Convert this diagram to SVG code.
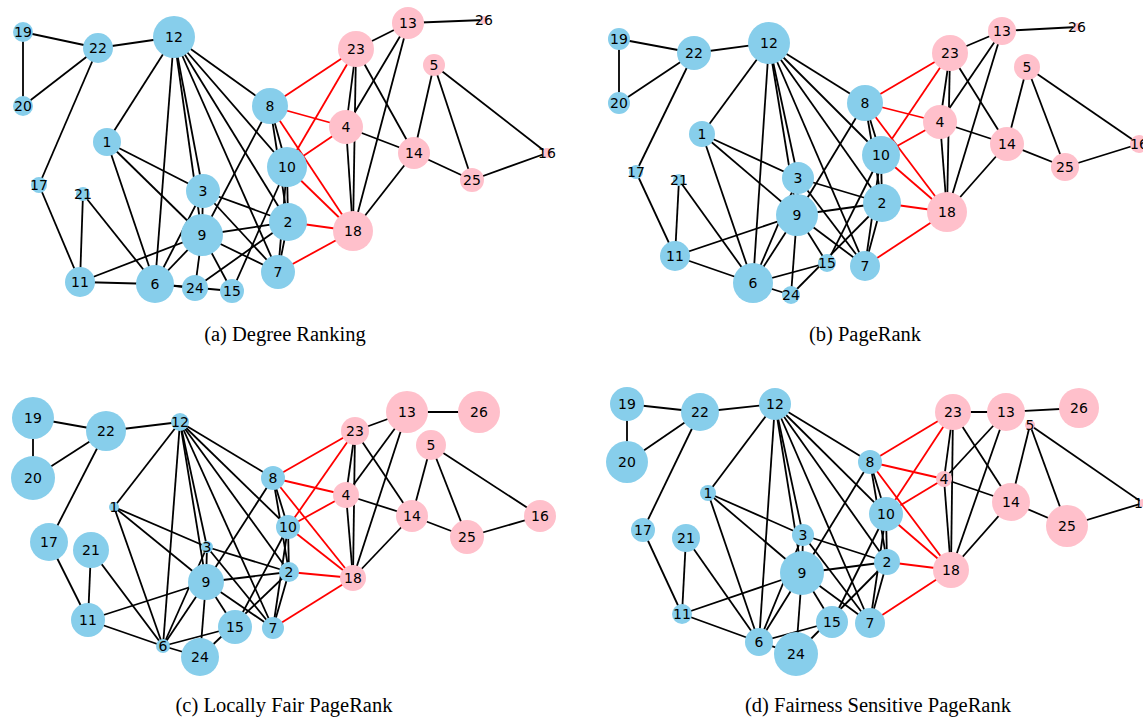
<svg xmlns="http://www.w3.org/2000/svg" width="1143" height="717" viewBox="0 0 1143 717">
<style>
.e{stroke:#000;stroke-width:1.8}
.r{stroke:#f00;stroke-width:1.8}
.b{fill:#87ceeb}
.p{fill:#ffc0cb}
text.t{font-family:"DejaVu Sans",sans-serif;font-size:14px;text-anchor:middle;fill:#000}
text.cap{font-family:"Liberation Serif",serif;font-size:20.5px;text-anchor:middle;fill:#000}
</style>
<rect width="1143" height="717" fill="#fff"/>
<!-- Panel A -->
<g id="panel-a">
<g id="a-edges">
<line class="e" x1="23" y1="32" x2="98" y2="48"/>
<line class="e" x1="23" y1="32" x2="23" y2="106"/>
<line class="e" x1="23" y1="106" x2="98" y2="48"/>
<line class="e" x1="98" y1="48" x2="174" y2="37"/>
<line class="e" x1="98" y1="48" x2="39" y2="185"/>
<line class="e" x1="39" y1="185" x2="80" y2="282"/>
<line class="e" x1="83" y1="194" x2="80" y2="282"/>
<line class="e" x1="83" y1="194" x2="155" y2="284"/>
<line class="e" x1="80" y1="282" x2="155" y2="284"/>
<line class="e" x1="80" y1="282" x2="202" y2="235"/>
<line class="e" x1="107" y1="142" x2="174" y2="37"/>
<line class="e" x1="107" y1="142" x2="203" y2="191"/>
<line class="e" x1="107" y1="142" x2="202" y2="235"/>
<line class="e" x1="107" y1="142" x2="155" y2="284"/>
<line class="e" x1="174" y1="37" x2="155" y2="284"/>
<line class="e" x1="174" y1="37" x2="203" y2="191"/>
<line class="e" x1="174" y1="37" x2="202" y2="235"/>
<line class="e" x1="174" y1="37" x2="278" y2="272"/>
<line class="e" x1="174" y1="37" x2="288" y2="222"/>
<line class="e" x1="174" y1="37" x2="287" y2="167"/>
<line class="e" x1="174" y1="37" x2="270" y2="106"/>
<line class="e" x1="270" y1="106" x2="202" y2="235"/>
<line class="e" x1="270" y1="106" x2="287" y2="167"/>
<line class="e" x1="270" y1="106" x2="288" y2="222"/>
<line class="e" x1="287" y1="167" x2="288" y2="222"/>
<line class="e" x1="287" y1="167" x2="278" y2="272"/>
<line class="e" x1="288" y1="222" x2="278" y2="272"/>
<line class="e" x1="203" y1="191" x2="202" y2="235"/>
<line class="e" x1="203" y1="191" x2="288" y2="222"/>
<line class="e" x1="203" y1="191" x2="278" y2="272"/>
<line class="e" x1="203" y1="191" x2="155" y2="284"/>
<line class="e" x1="202" y1="235" x2="288" y2="222"/>
<line class="e" x1="202" y1="235" x2="278" y2="272"/>
<line class="e" x1="202" y1="235" x2="155" y2="284"/>
<line class="e" x1="202" y1="235" x2="232" y2="291"/>
<line class="e" x1="202" y1="235" x2="195" y2="288"/>
<line class="e" x1="155" y1="284" x2="195" y2="288"/>
<line class="e" x1="155" y1="284" x2="232" y2="291"/>
<line class="e" x1="288" y1="222" x2="195" y2="288"/>
<line class="e" x1="287" y1="167" x2="232" y2="291"/>
<line class="e" x1="408" y1="23" x2="484" y2="20"/>
<line class="e" x1="408" y1="23" x2="356" y2="49"/>
<line class="e" x1="408" y1="23" x2="346" y2="127"/>
<line class="e" x1="408" y1="23" x2="353" y2="231"/>
<line class="e" x1="356" y1="49" x2="346" y2="127"/>
<line class="e" x1="356" y1="49" x2="353" y2="231"/>
<line class="e" x1="346" y1="127" x2="353" y2="231"/>
<line class="e" x1="356" y1="49" x2="414" y2="153"/>
<line class="e" x1="346" y1="127" x2="414" y2="153"/>
<line class="e" x1="414" y1="153" x2="353" y2="231"/>
<line class="e" x1="434" y1="65" x2="414" y2="153"/>
<line class="e" x1="434" y1="65" x2="472" y2="180"/>
<line class="e" x1="434" y1="65" x2="547" y2="153"/>
<line class="e" x1="414" y1="153" x2="472" y2="180"/>
<line class="e" x1="472" y1="180" x2="547" y2="153"/>
<line class="r" x1="270" y1="106" x2="356" y2="49"/>
<line class="r" x1="270" y1="106" x2="346" y2="127"/>
<line class="r" x1="270" y1="106" x2="353" y2="231"/>
<line class="r" x1="287" y1="167" x2="356" y2="49"/>
<line class="r" x1="287" y1="167" x2="346" y2="127"/>
<line class="r" x1="287" y1="167" x2="353" y2="231"/>
<line class="r" x1="288" y1="222" x2="353" y2="231"/>
<line class="r" x1="278" y1="272" x2="353" y2="231"/>
</g>
<g id="a-n1"><circle class="b" cx="107" cy="142" r="14"/><text class="t" x="107" y="147">1</text></g>
<g id="a-n2"><circle class="b" cx="288" cy="222" r="19"/><text class="t" x="288" y="227">2</text></g>
<g id="a-n3"><circle class="b" cx="203" cy="191" r="17"/><text class="t" x="203" y="196">3</text></g>
<g id="a-n4"><circle class="p" cx="346" cy="127" r="17"/><text class="t" x="346" y="132">4</text></g>
<g id="a-n5"><circle class="p" cx="434" cy="65" r="11"/><text class="t" x="434" y="70">5</text></g>
<g id="a-n6"><circle class="b" cx="155" cy="284" r="19"/><text class="t" x="155" y="289">6</text></g>
<g id="a-n7"><circle class="b" cx="278" cy="272" r="17"/><text class="t" x="278" y="277">7</text></g>
<g id="a-n8"><circle class="b" cx="270" cy="106" r="18"/><text class="t" x="270" y="111">8</text></g>
<g id="a-n9"><circle class="b" cx="202" cy="235" r="21"/><text class="t" x="202" y="240">9</text></g>
<g id="a-n10"><circle class="b" cx="287" cy="167" r="20"/><text class="t" x="287" y="172">10</text></g>
<g id="a-n11"><circle class="b" cx="80" cy="282" r="15"/><text class="t" x="80" y="287">11</text></g>
<g id="a-n12"><circle class="b" cx="174" cy="37" r="21"/><text class="t" x="174" y="42">12</text></g>
<g id="a-n13"><circle class="p" cx="408" cy="23" r="16"/><text class="t" x="408" y="28">13</text></g>
<g id="a-n14"><circle class="p" cx="414" cy="153" r="16"/><text class="t" x="414" y="158">14</text></g>
<g id="a-n15"><circle class="b" cx="232" cy="291" r="12"/><text class="t" x="232" y="296">15</text></g>
<g id="a-n16"><circle class="p" cx="547" cy="153" r="5"/><text class="t" x="547" y="158">16</text></g>
<g id="a-n17"><circle class="b" cx="39" cy="185" r="8"/><text class="t" x="39" y="190">17</text></g>
<g id="a-n18"><circle class="p" cx="353" cy="231" r="20"/><text class="t" x="353" y="236">18</text></g>
<g id="a-n19"><circle class="b" cx="23" cy="32" r="10"/><text class="t" x="23" y="37">19</text></g>
<g id="a-n20"><circle class="b" cx="23" cy="106" r="10"/><text class="t" x="23" y="111">20</text></g>
<g id="a-n21"><circle class="b" cx="83" cy="194" r="7"/><text class="t" x="83" y="199">21</text></g>
<g id="a-n22"><circle class="b" cx="98" cy="48" r="15"/><text class="t" x="98" y="53">22</text></g>
<g id="a-n23"><circle class="p" cx="356" cy="49" r="18"/><text class="t" x="356" y="54">23</text></g>
<g id="a-n24"><circle class="b" cx="195" cy="288" r="13"/><text class="t" x="195" y="293">24</text></g>
<g id="a-n25"><circle class="p" cx="472" cy="180" r="12"/><text class="t" x="472" y="185">25</text></g>
<g id="a-n26"><circle class="p" cx="484" cy="20" r="4"/><text class="t" x="484" y="25">26</text></g>
<text class="cap" x="285" y="341">(a) Degree Ranking</text>
</g>
<!-- Panel B -->
<g id="panel-b">
<g id="b-edges">
<line class="e" x1="619" y1="39" x2="694" y2="53"/>
<line class="e" x1="619" y1="39" x2="619" y2="103"/>
<line class="e" x1="619" y1="103" x2="694" y2="53"/>
<line class="e" x1="694" y1="53" x2="769" y2="43"/>
<line class="e" x1="694" y1="53" x2="636" y2="172"/>
<line class="e" x1="636" y1="172" x2="675" y2="256"/>
<line class="e" x1="679" y1="180" x2="675" y2="256"/>
<line class="e" x1="679" y1="180" x2="753" y2="283"/>
<line class="e" x1="675" y1="256" x2="753" y2="283"/>
<line class="e" x1="675" y1="256" x2="797" y2="215"/>
<line class="e" x1="702" y1="134" x2="769" y2="43"/>
<line class="e" x1="702" y1="134" x2="798" y2="178"/>
<line class="e" x1="702" y1="134" x2="797" y2="215"/>
<line class="e" x1="702" y1="134" x2="753" y2="283"/>
<line class="e" x1="769" y1="43" x2="753" y2="283"/>
<line class="e" x1="769" y1="43" x2="798" y2="178"/>
<line class="e" x1="769" y1="43" x2="797" y2="215"/>
<line class="e" x1="769" y1="43" x2="865" y2="266"/>
<line class="e" x1="769" y1="43" x2="882" y2="203"/>
<line class="e" x1="769" y1="43" x2="881" y2="155"/>
<line class="e" x1="769" y1="43" x2="865" y2="103"/>
<line class="e" x1="865" y1="103" x2="797" y2="215"/>
<line class="e" x1="865" y1="103" x2="881" y2="155"/>
<line class="e" x1="865" y1="103" x2="882" y2="203"/>
<line class="e" x1="881" y1="155" x2="882" y2="203"/>
<line class="e" x1="881" y1="155" x2="865" y2="266"/>
<line class="e" x1="882" y1="203" x2="865" y2="266"/>
<line class="e" x1="798" y1="178" x2="797" y2="215"/>
<line class="e" x1="798" y1="178" x2="882" y2="203"/>
<line class="e" x1="798" y1="178" x2="865" y2="266"/>
<line class="e" x1="798" y1="178" x2="753" y2="283"/>
<line class="e" x1="797" y1="215" x2="882" y2="203"/>
<line class="e" x1="797" y1="215" x2="865" y2="266"/>
<line class="e" x1="797" y1="215" x2="753" y2="283"/>
<line class="e" x1="797" y1="215" x2="827" y2="263"/>
<line class="e" x1="797" y1="215" x2="791" y2="295"/>
<line class="e" x1="753" y1="283" x2="791" y2="295"/>
<line class="e" x1="753" y1="283" x2="827" y2="263"/>
<line class="e" x1="882" y1="203" x2="791" y2="295"/>
<line class="e" x1="881" y1="155" x2="827" y2="263"/>
<line class="e" x1="1002" y1="31" x2="1077" y2="27"/>
<line class="e" x1="1002" y1="31" x2="950" y2="53"/>
<line class="e" x1="1002" y1="31" x2="940" y2="122"/>
<line class="e" x1="1002" y1="31" x2="947" y2="212"/>
<line class="e" x1="950" y1="53" x2="940" y2="122"/>
<line class="e" x1="950" y1="53" x2="947" y2="212"/>
<line class="e" x1="940" y1="122" x2="947" y2="212"/>
<line class="e" x1="950" y1="53" x2="1007" y2="144"/>
<line class="e" x1="940" y1="122" x2="1007" y2="144"/>
<line class="e" x1="1007" y1="144" x2="947" y2="212"/>
<line class="e" x1="1027" y1="67" x2="1007" y2="144"/>
<line class="e" x1="1027" y1="67" x2="1065" y2="167"/>
<line class="e" x1="1027" y1="67" x2="1139" y2="144"/>
<line class="e" x1="1007" y1="144" x2="1065" y2="167"/>
<line class="e" x1="1065" y1="167" x2="1139" y2="144"/>
<line class="r" x1="865" y1="103" x2="950" y2="53"/>
<line class="r" x1="865" y1="103" x2="940" y2="122"/>
<line class="r" x1="865" y1="103" x2="947" y2="212"/>
<line class="r" x1="881" y1="155" x2="950" y2="53"/>
<line class="r" x1="881" y1="155" x2="940" y2="122"/>
<line class="r" x1="881" y1="155" x2="947" y2="212"/>
<line class="r" x1="882" y1="203" x2="947" y2="212"/>
<line class="r" x1="865" y1="266" x2="947" y2="212"/>
</g>
<g id="b-n1"><circle class="b" cx="702" cy="134" r="13"/><text class="t" x="702" y="139">1</text></g>
<g id="b-n2"><circle class="b" cx="882" cy="203" r="19"/><text class="t" x="882" y="208">2</text></g>
<g id="b-n3"><circle class="b" cx="798" cy="178" r="16"/><text class="t" x="798" y="183">3</text></g>
<g id="b-n4"><circle class="p" cx="940" cy="122" r="17"/><text class="t" x="940" y="127">4</text></g>
<g id="b-n5"><circle class="p" cx="1027" cy="67" r="13"/><text class="t" x="1027" y="72">5</text></g>
<g id="b-n6"><circle class="b" cx="753" cy="283" r="20"/><text class="t" x="753" y="288">6</text></g>
<g id="b-n7"><circle class="b" cx="865" cy="266" r="15"/><text class="t" x="865" y="271">7</text></g>
<g id="b-n8"><circle class="b" cx="865" cy="103" r="18"/><text class="t" x="865" y="108">8</text></g>
<g id="b-n9"><circle class="b" cx="797" cy="215" r="21"/><text class="t" x="797" y="220">9</text></g>
<g id="b-n10"><circle class="b" cx="881" cy="155" r="19"/><text class="t" x="881" y="160">10</text></g>
<g id="b-n11"><circle class="b" cx="675" cy="256" r="15"/><text class="t" x="675" y="261">11</text></g>
<g id="b-n12"><circle class="b" cx="769" cy="43" r="21"/><text class="t" x="769" y="48">12</text></g>
<g id="b-n13"><circle class="p" cx="1002" cy="31" r="14"/><text class="t" x="1002" y="36">13</text></g>
<g id="b-n14"><circle class="p" cx="1007" cy="144" r="17"/><text class="t" x="1007" y="149">14</text></g>
<g id="b-n15"><circle class="b" cx="827" cy="263" r="9"/><text class="t" x="827" y="268">15</text></g>
<g id="b-n16"><circle class="p" cx="1139" cy="144" r="9"/><text class="t" x="1139" y="149">16</text></g>
<g id="b-n17"><circle class="b" cx="636" cy="172" r="7"/><text class="t" x="636" y="177">17</text></g>
<g id="b-n18"><circle class="p" cx="947" cy="212" r="20"/><text class="t" x="947" y="217">18</text></g>
<g id="b-n19"><circle class="b" cx="619" cy="39" r="11"/><text class="t" x="619" y="44">19</text></g>
<g id="b-n20"><circle class="b" cx="619" cy="103" r="11"/><text class="t" x="619" y="108">20</text></g>
<g id="b-n21"><circle class="b" cx="679" cy="180" r="6"/><text class="t" x="679" y="185">21</text></g>
<g id="b-n22"><circle class="b" cx="694" cy="53" r="17"/><text class="t" x="694" y="58">22</text></g>
<g id="b-n23"><circle class="p" cx="950" cy="53" r="18"/><text class="t" x="950" y="58">23</text></g>
<g id="b-n24"><circle class="b" cx="791" cy="295" r="9"/><text class="t" x="791" y="300">24</text></g>
<g id="b-n25"><circle class="p" cx="1065" cy="167" r="14"/><text class="t" x="1065" y="172">25</text></g>
<g id="b-n26"><circle class="p" cx="1077" cy="27" r="4"/><text class="t" x="1077" y="32">26</text></g>
<text class="cap" x="865" y="341">(b) PageRank</text>
</g>
<!-- Panel C -->
<g id="panel-c">
<g id="c-edges">
<line class="e" x1="33" y1="418" x2="106" y2="431"/>
<line class="e" x1="33" y1="418" x2="33" y2="478"/>
<line class="e" x1="33" y1="478" x2="106" y2="431"/>
<line class="e" x1="106" y1="431" x2="180" y2="422"/>
<line class="e" x1="106" y1="431" x2="49" y2="542"/>
<line class="e" x1="49" y1="542" x2="88" y2="620"/>
<line class="e" x1="91" y1="550" x2="88" y2="620"/>
<line class="e" x1="91" y1="550" x2="163" y2="646"/>
<line class="e" x1="88" y1="620" x2="163" y2="646"/>
<line class="e" x1="88" y1="620" x2="206" y2="582"/>
<line class="e" x1="114" y1="507" x2="180" y2="422"/>
<line class="e" x1="114" y1="507" x2="207" y2="547"/>
<line class="e" x1="114" y1="507" x2="206" y2="582"/>
<line class="e" x1="114" y1="507" x2="163" y2="646"/>
<line class="e" x1="180" y1="422" x2="163" y2="646"/>
<line class="e" x1="180" y1="422" x2="207" y2="547"/>
<line class="e" x1="180" y1="422" x2="206" y2="582"/>
<line class="e" x1="180" y1="422" x2="273" y2="628"/>
<line class="e" x1="180" y1="422" x2="289" y2="572"/>
<line class="e" x1="180" y1="422" x2="288" y2="527"/>
<line class="e" x1="180" y1="422" x2="273" y2="478"/>
<line class="e" x1="273" y1="478" x2="206" y2="582"/>
<line class="e" x1="273" y1="478" x2="288" y2="527"/>
<line class="e" x1="273" y1="478" x2="289" y2="572"/>
<line class="e" x1="288" y1="527" x2="289" y2="572"/>
<line class="e" x1="288" y1="527" x2="273" y2="628"/>
<line class="e" x1="289" y1="572" x2="273" y2="628"/>
<line class="e" x1="207" y1="547" x2="206" y2="582"/>
<line class="e" x1="207" y1="547" x2="289" y2="572"/>
<line class="e" x1="207" y1="547" x2="273" y2="628"/>
<line class="e" x1="207" y1="547" x2="163" y2="646"/>
<line class="e" x1="206" y1="582" x2="289" y2="572"/>
<line class="e" x1="206" y1="582" x2="273" y2="628"/>
<line class="e" x1="206" y1="582" x2="163" y2="646"/>
<line class="e" x1="206" y1="582" x2="235" y2="627"/>
<line class="e" x1="206" y1="582" x2="200" y2="657"/>
<line class="e" x1="163" y1="646" x2="200" y2="657"/>
<line class="e" x1="163" y1="646" x2="235" y2="627"/>
<line class="e" x1="289" y1="572" x2="200" y2="657"/>
<line class="e" x1="288" y1="527" x2="235" y2="627"/>
<line class="e" x1="407" y1="412" x2="479" y2="412"/>
<line class="e" x1="407" y1="412" x2="355" y2="431"/>
<line class="e" x1="407" y1="412" x2="346" y2="495"/>
<line class="e" x1="407" y1="412" x2="353" y2="578"/>
<line class="e" x1="355" y1="431" x2="346" y2="495"/>
<line class="e" x1="355" y1="431" x2="353" y2="578"/>
<line class="e" x1="346" y1="495" x2="353" y2="578"/>
<line class="e" x1="355" y1="431" x2="412" y2="516"/>
<line class="e" x1="346" y1="495" x2="412" y2="516"/>
<line class="e" x1="412" y1="516" x2="353" y2="578"/>
<line class="e" x1="431" y1="445" x2="412" y2="516"/>
<line class="e" x1="431" y1="445" x2="467" y2="537"/>
<line class="e" x1="431" y1="445" x2="540" y2="516"/>
<line class="e" x1="412" y1="516" x2="467" y2="537"/>
<line class="e" x1="467" y1="537" x2="540" y2="516"/>
<line class="r" x1="273" y1="478" x2="355" y2="431"/>
<line class="r" x1="273" y1="478" x2="346" y2="495"/>
<line class="r" x1="273" y1="478" x2="353" y2="578"/>
<line class="r" x1="288" y1="527" x2="355" y2="431"/>
<line class="r" x1="288" y1="527" x2="346" y2="495"/>
<line class="r" x1="288" y1="527" x2="353" y2="578"/>
<line class="r" x1="289" y1="572" x2="353" y2="578"/>
<line class="r" x1="273" y1="628" x2="353" y2="578"/>
</g>
<g id="c-n1"><circle class="b" cx="114" cy="507" r="5"/><text class="t" x="114" y="512">1</text></g>
<g id="c-n2"><circle class="b" cx="289" cy="572" r="10"/><text class="t" x="289" y="577">2</text></g>
<g id="c-n3"><circle class="b" cx="207" cy="547" r="6"/><text class="t" x="207" y="552">3</text></g>
<g id="c-n4"><circle class="p" cx="346" cy="495" r="13"/><text class="t" x="346" y="500">4</text></g>
<g id="c-n5"><circle class="p" cx="431" cy="445" r="15"/><text class="t" x="431" y="450">5</text></g>
<g id="c-n6"><circle class="b" cx="163" cy="646" r="7"/><text class="t" x="163" y="651">6</text></g>
<g id="c-n7"><circle class="b" cx="273" cy="628" r="11"/><text class="t" x="273" y="633">7</text></g>
<g id="c-n8"><circle class="b" cx="273" cy="478" r="12"/><text class="t" x="273" y="483">8</text></g>
<g id="c-n9"><circle class="b" cx="206" cy="582" r="18"/><text class="t" x="206" y="587">9</text></g>
<g id="c-n10"><circle class="b" cx="288" cy="527" r="12"/><text class="t" x="288" y="532">10</text></g>
<g id="c-n11"><circle class="b" cx="88" cy="620" r="17"/><text class="t" x="88" y="625">11</text></g>
<g id="c-n12"><circle class="b" cx="180" cy="422" r="9"/><text class="t" x="180" y="427">12</text></g>
<g id="c-n13"><circle class="p" cx="407" cy="412" r="21"/><text class="t" x="407" y="417">13</text></g>
<g id="c-n14"><circle class="p" cx="412" cy="516" r="16"/><text class="t" x="412" y="521">14</text></g>
<g id="c-n15"><circle class="b" cx="235" cy="627" r="17"/><text class="t" x="235" y="632">15</text></g>
<g id="c-n16"><circle class="p" cx="540" cy="516" r="16"/><text class="t" x="540" y="521">16</text></g>
<g id="c-n17"><circle class="b" cx="49" cy="542" r="19"/><text class="t" x="49" y="547">17</text></g>
<g id="c-n18"><circle class="p" cx="353" cy="578" r="13"/><text class="t" x="353" y="583">18</text></g>
<g id="c-n19"><circle class="b" cx="33" cy="418" r="21"/><text class="t" x="33" y="423">19</text></g>
<g id="c-n20"><circle class="b" cx="33" cy="478" r="22"/><text class="t" x="33" y="483">20</text></g>
<g id="c-n21"><circle class="b" cx="91" cy="550" r="18"/><text class="t" x="91" y="555">21</text></g>
<g id="c-n22"><circle class="b" cx="106" cy="431" r="20"/><text class="t" x="106" y="436">22</text></g>
<g id="c-n23"><circle class="p" cx="355" cy="431" r="14"/><text class="t" x="355" y="436">23</text></g>
<g id="c-n24"><circle class="b" cx="200" cy="657" r="19"/><text class="t" x="200" y="662">24</text></g>
<g id="c-n25"><circle class="p" cx="467" cy="537" r="17"/><text class="t" x="467" y="542">25</text></g>
<g id="c-n26"><circle class="p" cx="479" cy="412" r="21"/><text class="t" x="479" y="417">26</text></g>
<text class="cap" x="284" y="712">(c) Locally Fair PageRank</text>
</g>
<!-- Panel D -->
<g id="panel-d">
<g id="d-edges">
<line class="e" x1="627" y1="404" x2="700" y2="412"/>
<line class="e" x1="627" y1="404" x2="627" y2="462"/>
<line class="e" x1="627" y1="462" x2="700" y2="412"/>
<line class="e" x1="700" y1="412" x2="775" y2="404"/>
<line class="e" x1="700" y1="412" x2="643" y2="530"/>
<line class="e" x1="643" y1="530" x2="682" y2="614"/>
<line class="e" x1="686" y1="538" x2="682" y2="614"/>
<line class="e" x1="686" y1="538" x2="759" y2="642"/>
<line class="e" x1="682" y1="614" x2="759" y2="642"/>
<line class="e" x1="682" y1="614" x2="802" y2="573"/>
<line class="e" x1="708" y1="493" x2="775" y2="404"/>
<line class="e" x1="708" y1="493" x2="803" y2="535"/>
<line class="e" x1="708" y1="493" x2="802" y2="573"/>
<line class="e" x1="708" y1="493" x2="759" y2="642"/>
<line class="e" x1="775" y1="404" x2="759" y2="642"/>
<line class="e" x1="775" y1="404" x2="803" y2="535"/>
<line class="e" x1="775" y1="404" x2="802" y2="573"/>
<line class="e" x1="775" y1="404" x2="870" y2="623"/>
<line class="e" x1="775" y1="404" x2="887" y2="562"/>
<line class="e" x1="775" y1="404" x2="886" y2="514"/>
<line class="e" x1="775" y1="404" x2="870" y2="462"/>
<line class="e" x1="870" y1="462" x2="802" y2="573"/>
<line class="e" x1="870" y1="462" x2="886" y2="514"/>
<line class="e" x1="870" y1="462" x2="887" y2="562"/>
<line class="e" x1="886" y1="514" x2="887" y2="562"/>
<line class="e" x1="886" y1="514" x2="870" y2="623"/>
<line class="e" x1="887" y1="562" x2="870" y2="623"/>
<line class="e" x1="803" y1="535" x2="802" y2="573"/>
<line class="e" x1="803" y1="535" x2="887" y2="562"/>
<line class="e" x1="803" y1="535" x2="870" y2="623"/>
<line class="e" x1="803" y1="535" x2="759" y2="642"/>
<line class="e" x1="802" y1="573" x2="887" y2="562"/>
<line class="e" x1="802" y1="573" x2="870" y2="623"/>
<line class="e" x1="802" y1="573" x2="759" y2="642"/>
<line class="e" x1="802" y1="573" x2="832" y2="622"/>
<line class="e" x1="802" y1="573" x2="796" y2="654"/>
<line class="e" x1="759" y1="642" x2="796" y2="654"/>
<line class="e" x1="759" y1="642" x2="832" y2="622"/>
<line class="e" x1="887" y1="562" x2="796" y2="654"/>
<line class="e" x1="886" y1="514" x2="832" y2="622"/>
<line class="e" x1="1006" y1="412" x2="1079" y2="408"/>
<line class="e" x1="1006" y1="412" x2="953" y2="412"/>
<line class="e" x1="1006" y1="412" x2="944" y2="479"/>
<line class="e" x1="1006" y1="412" x2="951" y2="570"/>
<line class="e" x1="953" y1="412" x2="944" y2="479"/>
<line class="e" x1="953" y1="412" x2="951" y2="570"/>
<line class="e" x1="944" y1="479" x2="951" y2="570"/>
<line class="e" x1="953" y1="412" x2="1011" y2="502"/>
<line class="e" x1="944" y1="479" x2="1011" y2="502"/>
<line class="e" x1="1011" y1="502" x2="951" y2="570"/>
<line class="e" x1="1030" y1="425" x2="1011" y2="502"/>
<line class="e" x1="1030" y1="425" x2="1067" y2="526"/>
<line class="e" x1="1030" y1="425" x2="1143" y2="503"/>
<line class="e" x1="1011" y1="502" x2="1067" y2="526"/>
<line class="e" x1="1067" y1="526" x2="1143" y2="503"/>
<line class="r" x1="870" y1="462" x2="953" y2="412"/>
<line class="r" x1="870" y1="462" x2="944" y2="479"/>
<line class="r" x1="870" y1="462" x2="951" y2="570"/>
<line class="r" x1="886" y1="514" x2="953" y2="412"/>
<line class="r" x1="886" y1="514" x2="944" y2="479"/>
<line class="r" x1="886" y1="514" x2="951" y2="570"/>
<line class="r" x1="887" y1="562" x2="951" y2="570"/>
<line class="r" x1="870" y1="623" x2="951" y2="570"/>
</g>
<g id="d-n1"><circle class="b" cx="708" cy="493" r="8"/><text class="t" x="708" y="498">1</text></g>
<g id="d-n2"><circle class="b" cx="887" cy="562" r="13"/><text class="t" x="887" y="567">2</text></g>
<g id="d-n3"><circle class="b" cx="803" cy="535" r="11"/><text class="t" x="803" y="540">3</text></g>
<g id="d-n4"><circle class="p" cx="944" cy="479" r="8"/><text class="t" x="944" y="484">4</text></g>
<g id="d-n5"><circle class="p" cx="1030" cy="425" r="5"/><text class="t" x="1030" y="430">5</text></g>
<g id="d-n6"><circle class="b" cx="759" cy="642" r="14"/><text class="t" x="759" y="647">6</text></g>
<g id="d-n7"><circle class="b" cx="870" cy="623" r="15"/><text class="t" x="870" y="628">7</text></g>
<g id="d-n8"><circle class="b" cx="870" cy="462" r="12"/><text class="t" x="870" y="467">8</text></g>
<g id="d-n9"><circle class="b" cx="802" cy="573" r="22"/><text class="t" x="802" y="578">9</text></g>
<g id="d-n10"><circle class="b" cx="886" cy="514" r="17"/><text class="t" x="886" y="519">10</text></g>
<g id="d-n11"><circle class="b" cx="682" cy="614" r="10"/><text class="t" x="682" y="619">11</text></g>
<g id="d-n12"><circle class="b" cx="775" cy="404" r="16"/><text class="t" x="775" y="409">12</text></g>
<g id="d-n13"><circle class="p" cx="1006" cy="412" r="19"/><text class="t" x="1006" y="417">13</text></g>
<g id="d-n14"><circle class="p" cx="1011" cy="502" r="19"/><text class="t" x="1011" y="507">14</text></g>
<g id="d-n15"><circle class="b" cx="832" cy="622" r="16"/><text class="t" x="832" y="627">15</text></g>
<g id="d-n16"><circle class="p" cx="1143" cy="503" r="4"/><text class="t" x="1143" y="508">16</text></g>
<g id="d-n17"><circle class="b" cx="643" cy="530" r="12"/><text class="t" x="643" y="535">17</text></g>
<g id="d-n18"><circle class="p" cx="951" cy="570" r="18"/><text class="t" x="951" y="575">18</text></g>
<g id="d-n19"><circle class="b" cx="627" cy="404" r="17"/><text class="t" x="627" y="409">19</text></g>
<g id="d-n20"><circle class="b" cx="627" cy="462" r="21"/><text class="t" x="627" y="467">20</text></g>
<g id="d-n21"><circle class="b" cx="686" cy="538" r="14"/><text class="t" x="686" y="543">21</text></g>
<g id="d-n22"><circle class="b" cx="700" cy="412" r="19"/><text class="t" x="700" y="417">22</text></g>
<g id="d-n23"><circle class="p" cx="953" cy="412" r="18"/><text class="t" x="953" y="417">23</text></g>
<g id="d-n24"><circle class="b" cx="796" cy="654" r="22"/><text class="t" x="796" y="659">24</text></g>
<g id="d-n25"><circle class="p" cx="1067" cy="526" r="21"/><text class="t" x="1067" y="531">25</text></g>
<g id="d-n26"><circle class="p" cx="1079" cy="408" r="20"/><text class="t" x="1079" y="413">26</text></g>
<text class="cap" x="878" y="712">(d) Fairness Sensitive PageRank</text>
</g>
</svg>
